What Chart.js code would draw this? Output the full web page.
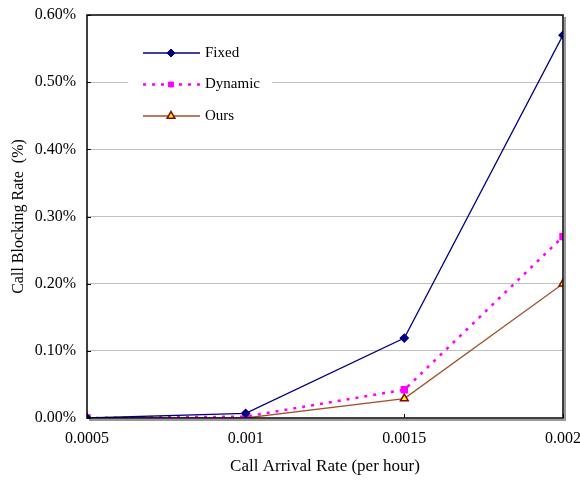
<!DOCTYPE html>
<html>
<head>
<meta charset="utf-8">
<script src="https://cdn.jsdelivr.net/npm/chart.js@4.4.0/dist/chart.umd.min.js"></script>
<style>
  html, body { margin: 0; padding: 0; background: #fff; }
  #wrap { width: 580px; height: 481px; }
</style>
</head>
<body>
<div id="wrap"><canvas id="chart" width="580" height="481"></canvas></div>
<script>
const arrivalRates = [0.0005, 0.001, 0.0015, 0.002];
const fixedRates = [0.0, 0.007, 0.119, 0.570];
const dynamicRates = [0.0, 0.002, 0.042, 0.270];
const oursRates = [0.0, 0.0, 0.029, 0.200];
const xTicks = ['0.0005', '0.001', '0.0015', '0.002'];
const yTicks = [0, 0.1, 0.2, 0.3, 0.4, 0.5, 0.6];

const serif = "'Liberation Serif', 'Times New Roman', serif";

const toPoints = (vals) => vals.map((v, i) => ({ x: arrivalRates[i], y: v }));

// legend drawn inside the plot, top-left, on a white box
const innerLegend = {
  id: 'innerLegend',
  afterDatasetsDraw(chart) {
    const ctx = chart.ctx;
    const area = chart.chartArea;
    const x0 = area.left + 56;
    ctx.save();
    ctx.fillStyle = '#fff';
    ctx.fillRect(area.left + 41, area.top + 16, 144, 108);
    ctx.restore();
    let y = area.top + 38;
    chart.data.datasets.forEach(ds => {
      ctx.save();
      ctx.strokeStyle = ds.borderColor;
      ctx.lineWidth = ds.borderWidth;
      ctx.setLineDash(ds.borderDash || []);
      ctx.beginPath();
      ctx.moveTo(x0, y);
      ctx.lineTo(x0 + 57, y);
      ctx.stroke();
      ctx.setLineDash([]);
      ctx.fillStyle = ds.pointBackgroundColor;
      ctx.strokeStyle = ds.pointBorderColor;
      ctx.lineWidth = ds.pointBorderWidth || 1;
      Chart.helpers.drawPoint(ctx, {
        pointStyle: ds.pointStyle,
        radius: ds.pointRadius,
        rotation: 0,
        borderWidth: ds.pointBorderWidth || 1
      }, x0 + 28, y);
      ctx.fillStyle = '#000';
      ctx.font = '15px ' + serif;
      ctx.textBaseline = 'middle';
      ctx.fillText(ds.label, x0 + 62, y);
      ctx.restore();
      y += 31.5;
    });
  }
};

// black frame with short inward ticks and a soft shadow on the right and bottom
const plotFrame = {
  id: 'plotFrame',
  afterDraw(chart) {
    const ctx = chart.ctx;
    const a = chart.chartArea;
    const xs = chart.scales.x;
    const ys = chart.scales.y;
    ctx.save();
    ctx.strokeStyle = '#999';
    ctx.lineWidth = 2;
    ctx.beginPath();
    ctx.moveTo(a.right + 2, a.top + 2);
    ctx.lineTo(a.right + 2, a.bottom + 2);
    ctx.lineTo(a.left + 2, a.bottom + 2);
    ctx.stroke();
    ctx.strokeStyle = '#000';
    ctx.lineWidth = 1.5;
    ctx.strokeRect(a.left, a.top, a.right - a.left, a.bottom - a.top);
    ctx.lineWidth = 1;
    ctx.beginPath();
    yTicks.forEach(v => {
      const py = Math.round(ys.getPixelForValue(v)) + 0.5;
      ctx.moveTo(a.left, py);
      ctx.lineTo(a.left + 4, py);
    });
    arrivalRates.forEach(v => {
      const px = Math.round(xs.getPixelForValue(v)) + 0.5;
      ctx.moveTo(px, a.bottom);
      ctx.lineTo(px, a.bottom - 4);
    });
    ctx.stroke();
    ctx.restore();
  }
};

new Chart(document.getElementById('chart'), {
  type: 'line',
  data: {
    datasets: [
      {
        label: 'Fixed',
        data: toPoints(fixedRates),
        borderColor: '#000080',
        borderWidth: 1.3,
        pointStyle: 'rectRot',
        pointRadius: 4,
        pointBackgroundColor: '#000080',
        pointBorderColor: '#000080',
        tension: 0
      },
      {
        label: 'Dynamic',
        data: toPoints(dynamicRates),
        borderColor: '#FF00FF',
        borderWidth: 2.5,
        borderDash: [3, 6],
        pointStyle: 'rect',
        pointRadius: 3.5,
        pointBackgroundColor: '#FF00FF',
        pointBorderColor: '#FF00FF',
        tension: 0
      },
      {
        label: 'Ours',
        data: toPoints(oursRates),
        borderColor: '#A0522D',
        borderWidth: 1.3,
        pointStyle: 'triangle',
        pointRadius: 4.5,
        pointBackgroundColor: '#FFFF00',
        pointBorderColor: '#8B0000',
        pointBorderWidth: 1.5,
        tension: 0
      }
    ]
  },
  options: {
    responsive: false,
    animation: false,
    layout: { padding: { left: 0, right: 17, top: 15, bottom: 0 } },
    plugins: {
      legend: { display: false },
      tooltip: { enabled: false }
    },
    scales: {
      x: {
        type: 'linear',
        min: 0.0005,
        max: 0.002,
        afterFit(scale) {
          scale.height = 63;
          scale.paddingLeft = 0;
          scale.paddingRight = 0;
        },
        afterBuildTicks(scale) {
          scale.ticks = arrivalRates.map(v => ({ value: v }));
        },
        ticks: {
          color: '#000',
          font: { family: serif, size: 16 },
          padding: 11,
          maxRotation: 0,
          callback: (v, i) => xTicks[i]
        },
        grid: { display: false, drawTicks: false },
        border: { display: false },
        title: {
          display: true,
          text: 'Call Arrival Rate (per hour)',
          color: '#000',
          font: { family: serif, size: 17 },
          padding: { top: 6 }
        }
      },
      y: {
        min: 0,
        max: 0.6,
        afterFit(scale) {
          scale.width = 87;
          scale.paddingTop = 0;
          scale.paddingBottom = 0;
        },
        afterBuildTicks(scale) {
          scale.ticks = yTicks.map(v => ({ value: v }));
        },
        ticks: {
          color: '#000',
          font: { family: serif, size: 16 },
          padding: 11,
          callback: v => v.toFixed(2) + '%'
        },
        grid: {
          color: ctx => (ctx.tick.value > 0 && ctx.tick.value < 0.6) ? '#c0c0c0' : 'rgba(0,0,0,0)',
          lineWidth: 1,
          drawTicks: false
        },
        border: { display: false },
        title: {
          display: true,
          text: 'Call Blocking Rate  (%)',
          color: '#000',
          font: { family: serif, size: 16 },
          padding: { top: 9, bottom: 0 }
        }
      }
    }
  },
  plugins: [innerLegend, plotFrame]
});
</script>
</body>
</html>
